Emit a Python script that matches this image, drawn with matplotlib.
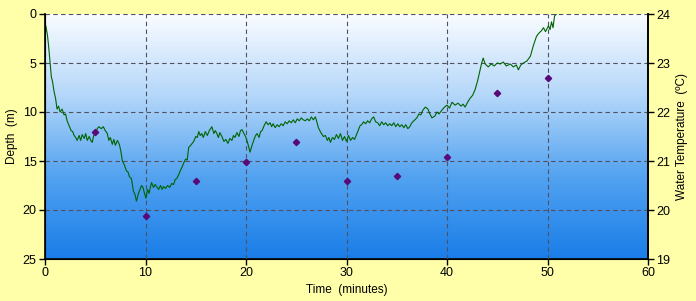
import matplotlib
matplotlib.use("Agg")
import matplotlib.pyplot as plt
import numpy as np
from matplotlib.colors import LinearSegmentedColormap

plt.rcParams['font.family'] = ['Liberation Sans', 'DejaVu Sans']

# depth trace (minutes, metres)
time_min = [
    0, 0.1, 0.25, 0.37, 0.5, 0.63, 0.75, 0.9, 1.05, 1.2,
    1.35, 1.5, 1.7, 1.9, 2.05, 2.2, 2.4, 2.6, 2.75, 2.9,
    3.05, 3.2, 3.4, 3.55, 3.7, 3.9, 4.05, 4.2, 4.4, 4.55,
    4.7, 4.85, 5.0, 5.2, 5.35, 5.6, 5.8, 6.0, 6.2, 6.35,
    6.5, 6.7, 6.85, 7.0, 7.2, 7.4, 7.55, 7.7, 7.9, 8.1,
    8.25, 8.4, 8.6, 8.8, 8.95, 9.1, 9.3, 9.45, 9.6, 9.75,
    9.9, 10.05, 10.2, 10.35, 10.5, 10.6, 10.8, 10.95, 11.1, 11.3,
    11.5, 11.65, 11.8, 12.0, 12.2, 12.4, 12.6, 12.8, 12.95, 13.1,
    13.3, 13.5, 13.65, 13.8, 14.0, 14.15, 14.3, 14.5, 14.65, 14.8,
    15.0, 15.15, 15.3, 15.45, 15.6, 15.75, 15.95, 16.15, 16.35, 16.6,
    16.8, 16.95, 17.1, 17.25, 17.4, 17.6, 17.8, 18.0, 18.2, 18.4,
    18.6, 18.75, 18.9, 19.1, 19.3, 19.45, 19.6, 19.8, 20.0, 20.2,
    20.4, 20.6, 20.8, 20.95, 21.1, 21.3, 21.45, 21.6, 21.8, 22.0,
    22.2, 22.4, 22.55, 22.7, 22.9, 23.1, 23.3, 23.5, 23.7, 23.9,
    24.1, 24.3, 24.5, 24.7, 24.9, 25.1, 25.3, 25.5, 25.7, 25.9,
    26.1, 26.3, 26.5, 26.7, 26.9, 27.05, 27.2, 27.45, 27.7, 27.9,
    28.1, 28.25, 28.4, 28.6, 28.8, 29.0, 29.2, 29.4, 29.6, 29.8,
    30.0, 30.2, 30.4, 30.6, 30.8, 31.0, 31.2, 31.35, 31.5, 31.7,
    31.9, 32.1, 32.3, 32.5, 32.7, 32.9, 33.1, 33.3, 33.5, 33.7,
    33.9, 34.1, 34.3, 34.5, 34.7, 34.9, 35.1, 35.3, 35.5, 35.7,
    35.9, 36.1, 36.3, 36.5, 36.7, 37.0, 37.2, 37.4, 37.6, 37.85,
    38.1, 38.3, 38.5, 38.8, 39.0, 39.2, 39.5, 39.75, 40.0, 40.25,
    40.5, 40.8, 41.1, 41.4, 41.6, 41.8, 42.05, 42.3, 42.55, 42.8,
    43.05, 43.3, 43.45, 43.6, 43.8, 44.1, 44.4, 44.7, 45.0, 45.3,
    45.6, 45.9, 46.3, 46.6, 46.9, 47.1, 47.35, 47.6, 47.95, 48.3,
    48.6, 48.9, 49.1, 49.4, 49.6, 49.8, 50.1, 50.25, 50.4, 50.55,
    50.7, 50.9, 51.1,
]
depth_m = [
    1.0, 1.3, 2.2, 3.4, 4.9, 6.4, 6.9, 7.9, 8.6, 9.7,
    9.4, 10.0, 9.7, 10.3, 10.2, 10.9, 11.4, 11.9, 12.0, 12.4,
    12.6, 12.9, 12.4, 12.9, 12.3, 12.7, 12.2, 12.9, 12.5, 12.9,
    13.1, 12.4, 12.2, 11.7, 11.5, 11.7, 11.5, 11.9, 12.2, 12.9,
    12.6, 13.3, 12.8, 13.4, 12.9, 13.3, 14.0, 15.0, 15.4, 16.0,
    16.1, 16.6, 16.8, 18.1, 18.4, 19.1, 18.3, 17.9, 17.5, 17.7,
    18.3, 18.8, 17.9, 18.3, 17.6, 17.2, 17.7, 17.4, 17.6, 17.9,
    17.5, 17.9, 17.6, 17.8, 17.5, 17.7, 17.3, 17.4, 16.9, 16.8,
    16.4, 15.9, 15.6, 15.2, 14.8, 14.9, 13.6, 13.4, 13.2, 13.0,
    12.5, 12.6, 12.0, 12.4, 12.2, 12.6, 12.0, 12.4, 11.9, 11.5,
    12.2, 11.9, 12.2, 12.6, 12.1, 12.5, 13.0, 12.8, 13.2, 12.7,
    12.9, 12.4, 12.6, 12.1, 12.5, 11.9, 11.8, 12.2, 12.6, 13.3,
    14.1, 13.4, 12.8, 12.4, 12.2, 12.6, 12.0, 11.9, 11.4, 11.0,
    11.3, 11.1, 11.5, 11.2, 11.6, 11.3, 11.5, 11.2, 11.4, 11.0,
    11.2, 10.9, 11.1, 10.8, 11.1, 10.7, 10.9, 10.6, 10.8, 10.9,
    10.7, 10.9, 10.5, 10.8, 10.5, 11.0, 11.6, 12.1, 12.5, 12.4,
    12.9, 12.6, 13.1, 12.6, 12.8, 12.3, 12.7, 12.2, 12.9, 12.5,
    13.0, 12.4, 12.9, 12.6, 12.8, 12.3, 11.8, 11.4, 11.3, 11.0,
    11.2, 10.9, 11.1, 10.7, 10.5, 11.0, 11.1, 11.4, 11.0, 11.3,
    11.1, 11.4, 11.2, 11.4, 11.1, 11.5, 11.2, 11.5, 11.3, 11.6,
    11.3, 11.7, 11.5, 11.1, 10.9, 10.6, 10.2, 10.3, 9.8, 9.5,
    9.7, 10.2, 10.6, 10.4, 10.0, 10.2, 9.8, 9.5, 9.3, 9.6,
    9.0, 9.3, 9.1, 9.4, 9.2, 9.5, 9.0, 8.6, 8.3, 7.7,
    6.8, 5.7, 5.0, 4.5, 5.1, 5.4, 5.1, 5.3, 5.0, 5.1,
    4.9, 5.3, 5.1, 5.4, 5.2, 5.7, 5.2, 5.0, 4.8, 4.3,
    3.2, 2.3, 2.0, 1.7, 1.4, 1.8, 1.2, 1.6, 0.8, 1.4,
    0.2, 0.0, -0.5,
]

# water temperature samples
temp_time = [5, 10, 15, 20, 25, 30, 35, 40, 45, 50]
temp_c = [21.6, 19.88, 20.6, 20.98, 21.39, 20.6, 20.7, 21.08, 22.39, 22.69]

fig = plt.figure(figsize=(6.96, 3.01), dpi=100, facecolor='#ffffaa')
ax = fig.add_axes([45/696, 1 - 259/301, 603/696, 245/301])

# water-like gradient behind the data
water = LinearSegmentedColormap.from_list('water', ['#fafcff', '#b4d7fa', '#52a2f0', '#1a7de8'])
grad = np.linspace(0, 1, 256).reshape(-1, 1)
ax.imshow(grad, cmap=water, aspect='auto', extent=[0, 60, 25, 0], zorder=0)

ax.set_xlim(0, 60)
ax.set_ylim(25, 0)
ax.set_xticks([0, 10, 20, 30, 40, 50, 60])
ax.set_yticks([0, 5, 10, 15, 20, 25])
ax.grid(True, color='#505060', ls=(0, (4, 3)), lw=0.8)
ax.set_axisbelow(False)

ax.plot(time_min, depth_m, color='#006400', lw=0.8, zorder=3)

ax.spines['top'].set_visible(False)
for s in ['left', 'bottom', 'right']:
    ax.spines[s].set_linewidth(1.2)
ax.tick_params(direction='out', length=4, width=1, labelsize=9, pad=2)
ax.set_xlabel('Time  (minutes)', fontsize=8.5, labelpad=3)
ax.set_ylabel('Depth  (m)', fontsize=8.5, labelpad=3)

ax2 = ax.twinx()
ax2.set_ylim(19, 24)
ax2.set_yticks([19, 20, 21, 22, 23, 24])
ax2.plot(temp_time, temp_c, 'D', color='#5a0a78', ms=3.2, zorder=4)
ax2.spines['top'].set_visible(False)
ax2.spines['right'].set_linewidth(1.2)
ax2.tick_params(direction='out', length=4, width=1, labelsize=9, pad=2)
ax2.set_ylabel('Water Temperature  (ºC)', fontsize=8.5, labelpad=4)

fig.savefig('out.png', dpi=100, facecolor=fig.get_facecolor())
